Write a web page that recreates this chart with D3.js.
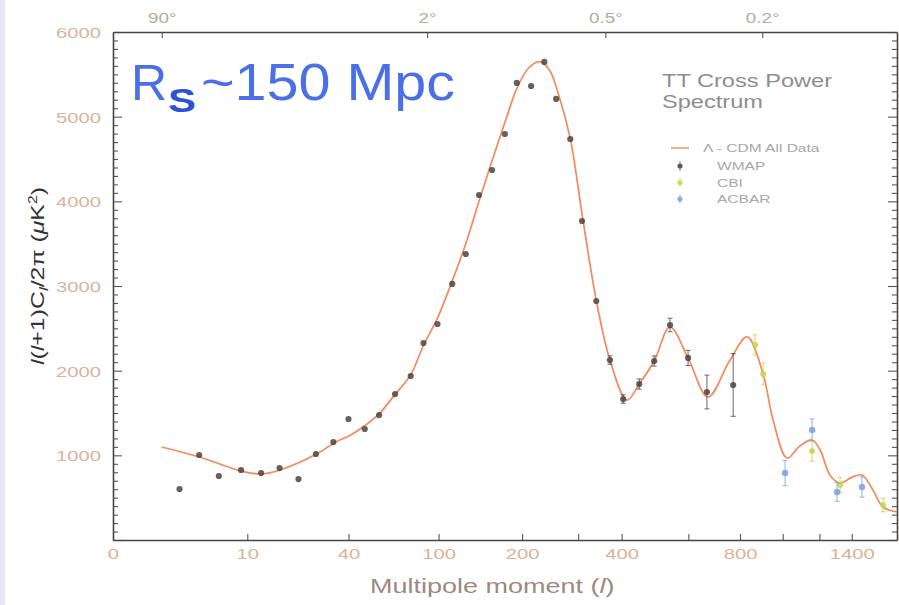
<!DOCTYPE html>
<html>
<head>
<meta charset="utf-8">
<script src="https://cdn.jsdelivr.net/npm/d3@7"></script>
<style>
    body { margin: 0; background: #fff; }
    #chart svg { display: block; font-family: "Liberation Sans", Arial, sans-serif; }
</style>
</head>
<body>
<div id="chart"></div>
<script>

// WMAP binned band powers (multipole, l(l+1)Cl/2pi in uK^2, error)
const wmapL = [2.5, 4, 6, 9, 12.5, 16.5, 21.5, 27, 33.5, 40, 48, 56, 66, 77, 87, 99, 113, 127, 142, 158,
    175, 192, 214, 236, 257, 284, 308, 339, 371, 404, 447, 490, 539, 599, 667, 771];
const wmapPower = [602, 1004, 756, 827, 791, 850, 720, 1016, 1157, 1429, 1311, 1476, 1724, 1937, 2327, 2551, 3024, 3378, 4075, 4370,
    4795, 5398, 5362, 5646, 5209, 4736, 3768, 2823, 2126, 1665, 1842, 2114, 2539, 2150, 1748, 1831];
const wmapErr = [0, 0, 0, 0, 0, 0, 0, 0, 0, 0, 0, 0, 0, 0, 0, 0, 0, 0, 0, 0,
    0, 0, 0, 0, 0, 0, 0, 0, 50, 50, 60, 60, 80, 90, 200, 370];

// CBI and ACBAR band powers
const cbiL = [867, 904, 1158, 1325, 1616];
const cbiPower = [2303, 1961, 1051, 650, 413];
const cbiErr = [120, 130, 120, 90, 80];

const acbarL = [1012, 1158, 1306, 1468];
const acbarPower = [791, 1299, 567, 626];
const acbarErr = [150, 130, 110, 120];

// Lambda-CDM best fit model
const lcdmL = [1.5, 4, 9, 12.3, 16.6, 28, 34, 41, 48, 56, 66, 77, 87, 99, 113, 127, 142, 158, 175, 192,
    210, 228, 245, 262, 284, 308, 339, 371, 414, 447, 490, 539, 599, 671, 758, 831, 904, 952, 1022, 1090,
    1158, 1204, 1265, 1325, 1400, 1468, 1540, 1616, 1720];
const lcdmPower = [1098, 980, 815, 780, 827, 1030, 1150, 1240, 1350, 1490, 1720, 1950, 2300, 2620, 3060, 3500, 4000, 4480, 4930, 5330,
    5575, 5650, 5550, 5250, 4740, 3850, 2830, 2126, 1653, 1842, 2114, 2516, 2150, 1689, 2126, 2398, 1961, 1417, 968, 1110,
    1181, 1063, 760, 673, 740, 768, 600, 390, 331];

// axis ticks
const xTickValues = [0, 10, 40, 100, 200, 300, 400, 600, 800, 1000, 1200, 1400];
const xTickLabels = [0, 10, 40, 100, 200, 400, 800, 1400];
const yTickLabels = [1000, 2000, 3000, 4000, 5000, 6000];
const angleLabels = ["90°", "2°", "0.5°", "0.2°"];
const angleL = [1.5, 90, 360, 900];

const STRETCH = 1.35;

class PowerSpectrum {

    constructor(parentElement) {
        this.parentElement = parentElement;
        this.initVis();
    }

    initVis() {
        let vis = this;

        vis.margin = {top: 32, right: 2, bottom: 65, left: 113};
        vis.width = 899 - vis.margin.left - vis.margin.right;
        vis.height = 605 - vis.margin.top - vis.margin.bottom;

        vis.root = d3.select("#" + vis.parentElement).append("svg")
            .attr("width", 899)
            .attr("height", 605);

        // faint lavender strip on the left edge of the slide
        vis.root.append("rect")
            .attr("width", 5).attr("height", 605)
            .attr("fill", "#e9e5f7");

        vis.svg = vis.root.append("g")
            .attr("transform", "translate(" + vis.margin.left + "," + vis.margin.top + ")");

        // x is roughly linear in l^(1/4)
        vis.xPow = d3.scalePow().exponent(0.25).domain([0.5, 1720.5]).range([0, vis.width]);
        vis.x = l => vis.xPow(l + 0.5);
        vis.y = d3.scaleLinear().domain([0, 6000]).range([vis.height, 0]);

        vis.wrangleData();
    }

    wrangleData() {
        let vis = this;

        vis.lcdm = lcdmL.map((l, i) => ({l: l, p: lcdmPower[i]}));
        vis.sets = [
            {name: "WMAP", color: "#4d4343", r: 3.1, data: wmapL.map((l, i) => ({l: l, p: wmapPower[i], e: wmapErr[i]}))},
            {name: "CBI", color: "#c9d24a", r: 3, data: cbiL.map((l, i) => ({l: l, p: cbiPower[i], e: cbiErr[i]}))},
            {name: "ACBAR", color: "#7c9fe6", r: 3.2, data: acbarL.map((l, i) => ({l: l, p: acbarPower[i], e: acbarErr[i]}))}
        ];

        vis.updateVis();
    }

    updateVis() {
        let vis = this;

        // left axis with minor ticks every 100
        let yAxisL = vis.svg.append("g").attr("class", "y-axis")
            .call(d3.axisLeft(vis.y).tickValues(d3.range(0, 6001, 100)).tickSizeOuter(0)
                .tickFormat(d => yTickLabels.includes(d) ? d : ""));
        yAxisL.selectAll(".tick line").attr("x2", d => d % 1000 === 0 ? 9 : 5);
        yAxisL.selectAll(".tick text")
            .attr("x", -12 / STRETCH).attr("dy", "0.36em")
            .attr("transform", `scale(${STRETCH},1)`)
            .attr("fill", "#d9b49c").style("font-size", "15px");

        let yAxisR = vis.svg.append("g").attr("class", "y-axis")
            .attr("transform", "translate(" + vis.width + ",0)")
            .call(d3.axisRight(vis.y).tickValues(d3.range(0, 6001, 100)).tickSizeOuter(0).tickFormat(""));
        yAxisR.selectAll(".tick line").attr("x2", d => d % 1000 === 0 ? -9 : -5);

        // bottom axis: multipole moment
        let xAxisB = vis.svg.append("g").attr("class", "x-axis")
            .attr("transform", "translate(0," + vis.height + ")")
            .call(d3.axisBottom(vis.xPow).tickValues(xTickValues.map(l => l + 0.5)).tickSizeOuter(0)
                .tickFormat(d => xTickLabels.includes(d - 0.5) ? (d - 0.5) : ""));
        xAxisB.selectAll(".tick line").attr("y2", d => d < 1 ? 0 : -6);
        xAxisB.selectAll(".tick text")
            .attr("y", 19).attr("dy", "0")
            .attr("transform", `scale(${STRETCH},1)`)
            .attr("fill", "#dcb296").style("font-size", "15px");

        // top axis: angular scale
        let xAxisT = vis.svg.append("g").attr("class", "x-axis")
            .call(d3.axisTop(vis.xPow).tickValues(angleL.map(l => l + 0.5)).tickSizeOuter(0)
                .tickFormat((d, i) => angleLabels[i]));
        xAxisT.selectAll(".tick line").attr("y2", 6);
        xAxisT.selectAll(".tick text")
            .attr("y", -9)
            .attr("transform", `scale(${STRETCH},1)`)
            .attr("fill", "#b9aa9c").style("font-size", "14px");

        vis.svg.selectAll(".domain").attr("stroke", "#4a4440").attr("stroke-width", 1.6);
        vis.svg.selectAll(".tick line").attr("stroke", "#5a5450").attr("stroke-width", 1.1);

        // model curve
        vis.svg.append("path")
            .datum(vis.lcdm)
            .attr("fill", "none")
            .attr("stroke", "#f28a5e")
            .attr("stroke-width", 1.7)
            .attr("d", d3.line()
                .x(d => vis.x(d.l))
                .y(d => vis.y(d.p))
                .curve(d3.curveCatmullRom.alpha(0.5)));

        // data sets with error bars
        vis.sets.forEach(set => {
            let g = vis.svg.append("g").attr("class", "points-" + set.name);
            let withErr = set.data.filter(d => d.e > 0);
            g.selectAll(".err").data(withErr).enter().append("line")
                .attr("x1", d => vis.x(d.l)).attr("x2", d => vis.x(d.l))
                .attr("y1", d => vis.y(d.p - d.e)).attr("y2", d => vis.y(d.p + d.e))
                .attr("stroke", set.color).attr("stroke-width", 1).attr("opacity", 0.8);
            g.selectAll(".cap").data(withErr.flatMap(d => [{l: d.l, p: d.p - d.e}, {l: d.l, p: d.p + d.e}]))
                .enter().append("line")
                .attr("x1", d => vis.x(d.l) - 2.5).attr("x2", d => vis.x(d.l) + 2.5)
                .attr("y1", d => vis.y(d.p)).attr("y2", d => vis.y(d.p))
                .attr("stroke", set.color).attr("stroke-width", 1).attr("opacity", 0.8);
            g.selectAll("circle").data(set.data).enter().append("circle")
                .attr("cx", d => vis.x(d.l))
                .attr("cy", d => vis.y(d.p))
                .attr("r", set.r)
                .attr("fill", set.color)
                .attr("opacity", 0.85);
        });

        // axis titles
        let xl = vis.root.append("text")
            .attr("transform", `translate(370,593) scale(${STRETCH},1)`)
            .attr("fill", "#9c8a80")
            .style("font-size", "20px");
        xl.append("tspan").text("Multipole moment (");
        xl.append("tspan").style("font-style", "italic").text("l");
        xl.append("tspan").text(")");

        let yl = vis.root.append("text")
            .attr("transform", "translate(44,276) rotate(-90)")
            .attr("text-anchor", "middle")
            .attr("fill", "#333")
            .attr("textLength", 178)
            .attr("lengthAdjust", "spacingAndGlyphs")
            .style("font-size", "19px");
        yl.append("tspan").style("font-style", "italic").text("l");
        yl.append("tspan").text("(");
        yl.append("tspan").style("font-style", "italic").text("l");
        yl.append("tspan").text("+1)C");
        yl.append("tspan").style("font-style", "italic").style("font-size", "13px").attr("dy", 4).text("l");
        yl.append("tspan").attr("dy", -4).text("/2π (");
        yl.append("tspan").style("font-style", "italic").text("μ");
        yl.append("tspan").text("K");
        yl.append("tspan").style("font-size", "12px").attr("dy", -7).text("2");
        yl.append("tspan").attr("dy", 7).text(")");

        // title inside the plot
        [["TT Cross Power", 87], ["Spectrum", 108]].forEach(t => {
            vis.root.append("text")
                .attr("transform", `translate(662,${t[1]}) scale(${STRETCH},1)`)
                .attr("fill", "#8e8e8e")
                .style("font-size", "17.5px")
                .text(t[0]);
        });

        // legend
        let lg = vis.root.append("g").attr("class", "legend");
        lg.append("line")
            .attr("x1", 671).attr("x2", 689).attr("y1", 148).attr("y2", 148)
            .attr("stroke", "#f28a5e").attr("stroke-width", 1.4);
        lg.append("text")
            .attr("transform", `translate(703,152) scale(${STRETCH},1)`)
            .attr("fill", "#a8a8a8").style("font-size", "11.5px")
            .text("Λ - CDM All Data");
        vis.sets.forEach((set, i) => {
            let cy = 166 + i * 16.5;
            lg.append("line")
                .attr("x1", 680).attr("x2", 680).attr("y1", cy - 5).attr("y2", cy + 5)
                .attr("stroke", set.color).attr("stroke-width", 1).attr("opacity", 0.7);
            lg.append("circle")
                .attr("cx", 680).attr("cy", cy).attr("r", 2.6)
                .attr("fill", set.color).attr("opacity", 0.85);
            lg.append("text")
                .attr("transform", `translate(717,${cy + 4}) scale(${STRETCH},1)`)
                .attr("fill", "#a8a8a8").style("font-size", "11.5px")
                .text(set.name);
        });

        // sound horizon annotation
        let ann = vis.root.append("g").attr("class", "annotation");
        ann.append("text")
            .attr("x", 131).attr("y", 100)
            .attr("fill", "#4b6fe6")
            .style("font-size", "50px")
            .text("R");
        ann.append("text")
            .attr("x", 168).attr("y", 112)
            .attr("fill", "#2d52d4")
            .attr("textLength", 28)
            .attr("lengthAdjust", "spacingAndGlyphs")
            .style("font-size", "33px")
            .style("font-weight", "bold")
            .text("S");
        ann.append("text")
            .attr("x", 201).attr("y", 100)
            .attr("fill", "#4b6fe6")
            .attr("textLength", 254)
            .attr("lengthAdjust", "spacingAndGlyphs")
            .style("font-size", "52px")
            .text("~150 Mpc");
    }
}

let spectrum = new PowerSpectrum("chart");

</script>
</body>
</html>
